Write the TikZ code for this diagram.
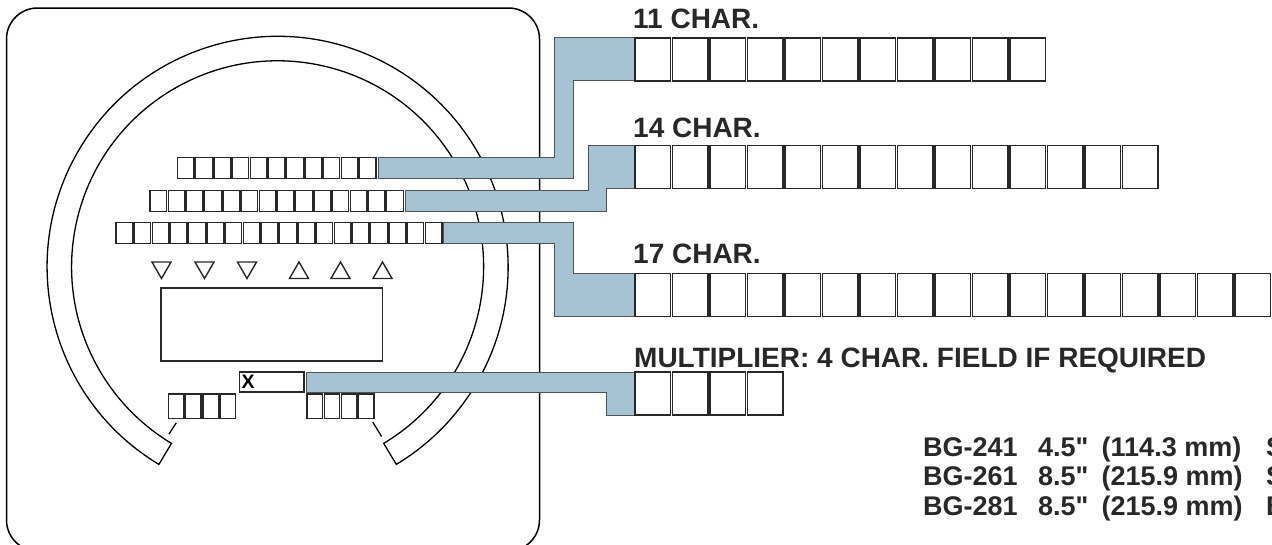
\documentclass[tikz,border=0pt]{standalone}
\usepackage{fontspec}
\setmainfont{Liberation Sans}[Ligatures=TeXOff]
\usepackage{xcolor}
\usepackage{tikz}
\usetikzlibrary{shapes.geometric}
\usetikzlibrary{backgrounds}
\definecolor{barblue}{RGB}{166,195,211}
\definecolor{boxgray}{RGB}{40,40,40}
\tikzset{
    cellnode/.style = {draw=boxgray, inner sep=0pt, outer sep=0pt, anchor=north west, line width=1.4pt},
    left_cell/.style = {cellnode, minimum width=16.6pt, minimum height=21pt},
    right_cell/.style = {cellnode, minimum width=35.6pt, minimum height=43pt},
    small_cell/.style = {cellnode, minimum width=15.4pt, minimum height=24.5pt},
    tri_up/.style = {regular polygon, regular polygon sides=3, draw=boxgray, line width=1.4pt, minimum size=22pt, inner sep=0pt},
    tri_down/.style = {tri_up, shape border rotate=180},
    feed_bar/.style = {fill=barblue, draw=boxgray!80, line width=0.8pt},
    char_label/.style = {font=\bfseries\fontsize{28}{30}\selectfont, text=boxgray, inner sep=0pt, anchor=base west},
    spec_text/.style = {font=\bfseries\fontsize{27}{29}\selectfont, text=boxgray, inner sep=0pt, anchor=base west}
}

\begin{document}
\begin{tikzpicture}[x=1pt, y=-1pt]
    \useasboundingbox (0,0) rectangle (1272,544);

    % character rows on the gauge face
    \foreach \i in {1,...,11} \node[left_cell] (p1_\i) at ({177.5+18.2*(\i-1)},157.5) {};
    \foreach \i in {1,...,14} \node[left_cell] (p2_\i) at ({150+18.2*(\i-1)},190.3) {};
    \foreach \i in {1,...,18} \node[left_cell] (p3_\i) at ({115.8+18.2*(\i-1)},222.3) {};

    % pointers
    \foreach \x in {161.5,204.5,247} \node[tri_down] at (\x,267.5) {};
    \foreach \x in {299,340.5,382.5} \node[tri_up] at (\x,273) {};

    \node[cellnode, line width=1.5pt, minimum width=221.5pt, minimum height=73pt] (panel) at (161,288) {};
    \node[cellnode, minimum width=64.5pt, minimum height=20pt, text width=60.5pt, inner xsep=2pt, align=left,
          font=\bfseries\fontsize{19.5}{19.5}\selectfont] (mult_x) at (239.5,372) {X};

    \foreach \i in {1,...,4} \node[small_cell] (s1_\i) at ({168.5+17.2*(\i-1)},394) {};
    \foreach \i in {1,...,4} \node[small_cell] (s2_\i) at ({307+17.2*(\i-1)},394) {};

    % enlarged rows
    \foreach \i in {1,...,11} \node[right_cell] (q1_\i) at ({635+37.5*(\i-1)},37.8) {};
    \foreach \i in {1,...,14} \node[right_cell] (q2_\i) at ({635+37.5*(\i-1)},145.3) {};
    \foreach \i in {1,...,17} \node[right_cell] (q3_\i) at ({635+37.5*(\i-1)},273.5) {};
    \foreach \i in {1,...,4} \node[right_cell] (q4_\i) at ({635+37.5*(\i-1)},372) {};

    \node[char_label] (lab_11) at (633,28) {11 CHAR.};
    \node[char_label] (lab_14) at (633,137) {14 CHAR.};
    \node[char_label] (lab_17) at (633,263) {17 CHAR.};
    \node[char_label] (lab_mult) at (634,367) {MULTIPLIER: 4 CHAR. FIELD IF REQUIRED};

    % model list
    \foreach \model/\inch/\metric/\tail [count=\k] in {BG-241/4.5/114.3/S, BG-261/8.5/215.9/S, BG-281/8.5/215.9/B} {
        \pgfmathsetmacro\yb{456+29.5*(\k-1)}
        \node[spec_text] (model_\k) at (923,\yb) {\model};
        \node[spec_text] (inch_\k) at (1038,\yb) {\inch"};
        \node[spec_text] (metric_\k) at (1101.5,\yb) {(\metric\ mm)};
        \node[spec_text] (tail_\k) at (1266,\yb) {\tail};
    }

    \coordinate (k1) at ([xshift=-81pt]q1_1.north west);
    \coordinate (k2) at ([xshift=-62pt]q1_1.south west);
    \coordinate (k3) at ([xshift=-47pt]q2_1.north west);
    \coordinate (k4) at ([xshift=-29pt]q2_1.south west);
    \coordinate (k5) at ([xshift=-62pt]q3_1.north west);
    \coordinate (k6) at ([xshift=-81pt]q3_1.south west);
    \coordinate (k7) at ([xshift=-29pt]q4_1.south west);
    \coordinate (ctr) at (277.6,266.8);

    \begin{scope}[on background layer]
        \draw[line width=1.5pt, rounded corners=31pt] (6.5,8) rectangle (539.5,551);
        \draw[line width=1.3pt] (ctr) ++(121:230.5) arc[start angle=121, end angle=419, radius=230.5]
            -- ++(419:-24.5) arc[start angle=419, end angle=121, radius=206] -- cycle;
        \draw[line width=1.3pt] (ctr) ++(123:186) -- ++(123:13.5);
        \draw[line width=1.3pt] (ctr) ++(58.5:182) -- ++(58.5:17);

        \draw[feed_bar] ([xshift=2pt]p1_11.north east) -| (k1) -- (q1_1.north west) -- (q1_1.south west) -- (k2) |- ([xshift=2pt]p1_11.south east) -- cycle;
        \draw[feed_bar] ([xshift=2pt]p2_14.north east) -| (k3) -- (q2_1.north west) -- (q2_1.south west) -- (k4) |- ([xshift=2pt]p2_14.south east) -- cycle;
        \draw[feed_bar] ([xshift=2pt]p3_18.north east) -| (k5) -- (q3_1.north west) -- (q3_1.south west) -- (k6) |- ([xshift=2pt]p3_18.south east) -- cycle;
        \draw[feed_bar] ([xshift=2pt]mult_x.north east) -- (q4_1.north west) -- (q4_1.south west) -- (k7) |- ([xshift=2pt]mult_x.south east) -- cycle;
    \end{scope}
\end{tikzpicture}
\end{document}
